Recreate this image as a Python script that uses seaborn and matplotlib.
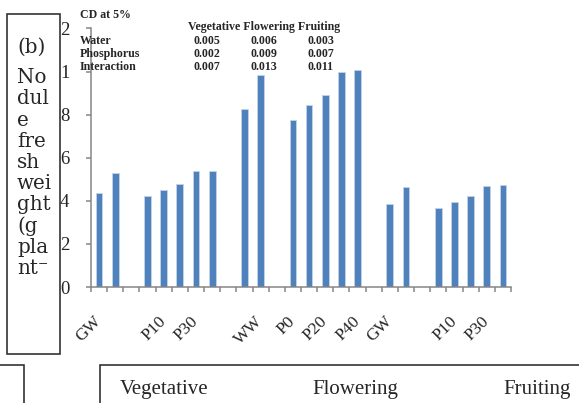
import numpy as np
import pandas as pd
import matplotlib
matplotlib.use("Agg")
import matplotlib.pyplot as plt
from matplotlib.patches import Rectangle
import seaborn as sns

# category slots (blank slots separate the groups, like the original sheet)
treatments = ["GW", "WW", "", "P0", "P10", "P20", "P30", "P40", "",
              "GW", "WW", "", "P0", "P10", "P20", "P30", "P40", "",
              "GW", "WW", "", "P0", "P10", "P20", "P30", "P40"]
nodule_weight = [4.38, 5.31, np.nan, 4.22, 4.50, 4.80, 5.37, 5.40, np.nan,
                 8.24, 9.82, np.nan, 7.76, 8.46, 8.91, 9.99, 10.07, np.nan,
                 3.85, 4.66, np.nan, 3.68, 3.94, 4.22, 4.69, 4.75]
y_ticks = [0, 2, 4, 6, 8, 10, 12]
y_labels = ["0", "2", "4", "6", "8", "1", "2"]  # clipped labels as seen in the source
stages = ["Vegetative", "Flowering", "Fruiting"]
cd_rows = ["Water", "Phosphorus", "Interaction"]
cd_water = ["0.005", "0.006", "0.003"]
cd_phosphorus = ["0.002", "0.009", "0.007"]
cd_interaction = ["0.007", "0.013", "0.011"]
side_label = ["No", "dul", "e", "fre", "sh", "wei", "ght", "(g", "pla", "nt\u207b"]

slots = [f"s{i:02d}" for i in range(len(treatments))]
df = pd.DataFrame({"slot": slots, "value": nodule_weight})

W, H = 579, 403
def px(x, y):
    return x / W, 1 - y / H

serif = ["Liberation Serif", "DejaVu Serif"]
sns.set_style("white")
plt.rcParams["font.family"] = serif

fig = plt.figure(figsize=(5.79, 4.03), dpi=100)
ax = fig.add_axes([91 / W, 1 - 287 / H, 420 / W, (287 - 28.4) / H])

sns.barplot(data=df, x="slot", y="value", order=slots, color="#4F81BD",
            saturation=1, width=0.42, edgecolor="#c3d3e8", linewidth=0.6, ax=ax)

ax.set_xlim(-0.5, len(slots) - 0.5)
ax.set_ylim(0, 12)
ax.set_xlabel("")
ax.set_ylabel("")
sns.despine(ax=ax)
for s in ["left", "bottom"]:
    ax.spines[s].set_color("#868686")
    ax.spines[s].set_linewidth(1.1)

ax.set_yticks(y_ticks)
ax.set_yticklabels(y_labels, fontsize=13.5)
for t in ax.get_yticklabels():
    t.set_horizontalalignment("left")
ax.tick_params(axis="y", length=3.6, width=1.1, color="#868686", pad=18.7, direction="out", left=True)

ax.set_xticks(range(0, len(slots), 2))
ax.set_xticklabels(treatments[::2], rotation=45, ha="right", va="center",
                   rotation_mode="anchor", fontsize=12.5)
ax.set_xticks(np.arange(-0.5, len(slots), 1), minor=True)
ax.tick_params(axis="x", which="major", length=0, pad=23)
ax.tick_params(axis="x", which="minor", length=3.6, width=1.1, color="#868686", direction="out", bottom=True)

# CD table at the top
tkw = dict(fontsize=8.6, fontweight="bold", va="center", ha="left")
fig.text(*px(80, 15), "CD at 5%", **tkw)
fig.text(*px(188, 27), " ".join(stages), **tkw)
for i, name in enumerate(cd_rows):
    yy = 41 + i * 13
    fig.text(*px(80, yy), name, **tkw)
    vals = [cd_water, cd_phosphorus, cd_interaction][i]
    for j, v in enumerate(vals):
        fig.text(*px(193 + j * 57.5, yy), v, **tkw)

# left text box
fig.add_artist(Rectangle(px(7, 354), 53 / W, 340 / H, transform=fig.transFigure,
                         fill=False, edgecolor="#222222", linewidth=1.1))
side_kw = dict(fontsize=14.3, va="baseline", ha="left", family=["DejaVu Serif"])
fig.text(*px(17, 53), "(b)", **side_kw)
for i, s in enumerate(side_label):
    fig.text(*px(17, 83.3 + i * 21.2), s, **side_kw)

# bottom boxes
fig.add_artist(Rectangle(px(100, 410), 500 / W, 45 / H, transform=fig.transFigure,
                         fill=False, edgecolor="#222222", linewidth=1.1, clip_on=False))
fig.add_artist(Rectangle(px(-20, 410), 44 / W, 45 / H, transform=fig.transFigure,
                         fill=False, edgecolor="#222222", linewidth=1.1, clip_on=False))
for name, x in zip(stages, [120, 312, 503]):
    fig.text(*px(x, 394), name, fontsize=15, va="baseline", ha="left")

fig.savefig("out.png", dpi=100)
